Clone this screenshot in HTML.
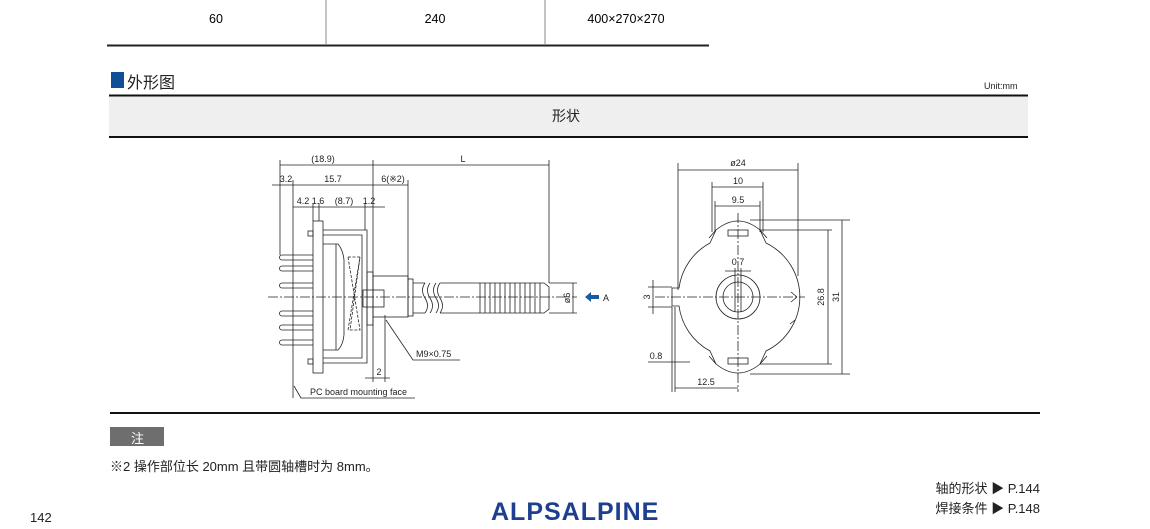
<!DOCTYPE html>
<html><head><meta charset="utf-8"><style>
*{margin:0;padding:0}
body{width:1150px;height:529px;background:#fff;position:relative;overflow:hidden;font-family:"Liberation Sans","Noto Sans CJK SC",sans-serif;color:#222}
.a{position:absolute;white-space:nowrap}
</style></head><body>
<div class="a" style="left:0;top:0;width:1150px;height:529px">
<svg width="1150" height="529" viewBox="0 0 1150 529" xmlns="http://www.w3.org/2000/svg" style="position:absolute;left:0;top:0" font-family="Liberation Sans, sans-serif">
<line x1="326" y1="0" x2="326" y2="44" stroke="#888" stroke-width="1"/>
<line x1="545" y1="0" x2="545" y2="44" stroke="#888" stroke-width="1"/>
<line x1="107" y1="45.5" x2="709" y2="45.5" stroke="#222" stroke-width="2"/>
<text x="216" y="23" font-size="12.5" text-anchor="middle">60</text>
<text x="435" y="23" font-size="12.5" text-anchor="middle">240</text>
<text x="626" y="23" font-size="12.5" text-anchor="middle">400×270×270</text>
<rect x="111" y="72" width="13" height="16" fill="#0f4f96"/>
<rect x="109" y="96" width="919" height="41" fill="#efefef"/>
<line x1="109" y1="95.5" x2="1028" y2="95.5" stroke="#111" stroke-width="2"/>
<line x1="109" y1="137" x2="1028" y2="137" stroke="#111" stroke-width="2"/>
<line x1="110" y1="413" x2="1040" y2="413" stroke="#111" stroke-width="2"/>
<rect x="110" y="427" width="54" height="19" fill="#6e6e6e"/>

<g stroke="#222" stroke-width="0.8" fill="none">
<line x1="280" y1="165" x2="549" y2="165"/>
<line x1="272" y1="185" x2="408" y2="185"/>
<line x1="293" y1="207" x2="385" y2="207"/>
<line x1="280" y1="160" x2="280" y2="255"/>
<line x1="293" y1="180" x2="293" y2="398"/>
<line x1="373" y1="160" x2="373" y2="382"/>
<line x1="408" y1="180" x2="408" y2="282"/>
<line x1="549" y1="160" x2="549" y2="283"/>
<line x1="313" y1="203" x2="313" y2="221"/>
<line x1="319" y1="203" x2="319" y2="221"/>
<line x1="365" y1="203" x2="365" y2="230"/>
<line x1="385" y1="315" x2="385" y2="382"/>
<line x1="365" y1="378" x2="390" y2="378"/>
<rect x="313" y="221" width="10" height="152"/>
<rect x="308" y="231" width="5" height="5"/>
<rect x="308" y="359" width="5" height="5"/>
<path d="M323 230 H367 V363 H323"/>
<path d="M323 235 H362 V358 H323"/>
<path d="M323 244 H338 Q343 250 344 260 V335 Q343 345 338 350 H323"/>
<line x1="336" y1="244" x2="336" y2="350"/>
<path d="M348 257 H360 L350 330 H360 Z M348 330 L360 257" stroke-dasharray="3 1.5" />
<rect x="367" y="272" width="6" height="53"/>
<rect x="373" y="276" width="35" height="41"/>
<rect x="408" y="279" width="5" height="37"/>
<rect x="363" y="290" width="21" height="17"/>
<path d="M413 283 H425 M413 313 H425 M440 283 H480 M440 313 H480"/>
<path d="M425 283 q-5 7 0 15 q5 8 0 15 M430 283 q-5 7 0 15 q5 8 0 15 M436 283 q-5 7 0 15 q5 8 0 15 M440 283 q-5 7 0 15 q5 8 0 15"/>
<path d="M480 283 H544 L549 287 V309 L544 313 H480 Z"/>
<path d="M485 283V313M490 283V313M495 283V313M500 283V313M505 283V313M510 283V313M515 283V313M520 283V313M525 283V313M530 283V313M535 283V313M540 283V313"/>
<g>
<path d="M313 255 H282 a2.5 2.5 0 0 0 0 5 H313"/>
<path d="M313 266 H282 a2.5 2.5 0 0 0 0 5 H313"/>
<path d="M313 283 H282 a2.5 2.5 0 0 0 0 5 H313"/>
<path d="M313 311 H282 a2.5 2.5 0 0 0 0 5 H313"/>
<path d="M313 325 H282 a2.5 2.5 0 0 0 0 5 H313"/>
<path d="M313 340 H282 a2.5 2.5 0 0 0 0 5 H313"/>
</g>
<line x1="549" y1="283" x2="577" y2="283"/>
<line x1="549" y1="313" x2="577" y2="313"/>
<line x1="573" y1="283" x2="573" y2="313"/>
<path d="M386 320 L413 360 H460"/>
<path d="M294 386 L301 398 H415"/>
<line x1="268" y1="297" x2="577" y2="297" stroke-dasharray="10 2 2 2"/>

<line x1="678" y1="170" x2="798" y2="170"/>
<line x1="712" y1="187" x2="763" y2="187"/>
<line x1="715" y1="206" x2="760" y2="206"/>
<line x1="678" y1="163" x2="678" y2="290"/>
<line x1="798" y1="163" x2="798" y2="276"/>
<line x1="712" y1="182" x2="712" y2="232"/>
<line x1="763" y1="182" x2="763" y2="232"/>
<line x1="715" y1="201" x2="715" y2="232"/>
<line x1="760" y1="201" x2="760" y2="232"/>
<path d="M716 230 Q738 212 760 230 L766 243 A60 60 0 0 1 766 351 L760 364 Q738 382 716 364 L710 351 A60 60 0 0 1 679 306 H672 V288 H679 A60 60 0 0 1 710 243 Z"/>
<path d="M760 230 L767 238 M716 230 L709 238 M760 364 L767 356 M716 364 L709 356"/>
<rect x="728" y="230" width="20" height="6"/>
<rect x="728" y="358" width="20" height="6"/>
<circle cx="738" cy="297" r="22"/>
<circle cx="738" cy="297" r="15"/>
<line x1="735" y1="268" x2="735" y2="312"/>
<line x1="741" y1="268" x2="741" y2="312"/>
<line x1="725" y1="271" x2="751" y2="271"/>
<line x1="738" y1="213" x2="738" y2="392" stroke-dasharray="10 2 2 2"/>
<line x1="655" y1="297" x2="805" y2="297" stroke-dasharray="10 2 2 2"/>
<path d="M797 297 L791 292 M797 297 L791 302 M790 324 L795 320"/>
<line x1="760" y1="230" x2="832" y2="230"/>
<line x1="760" y1="364" x2="832" y2="364"/>
<line x1="828" y1="230" x2="828" y2="364"/>
<line x1="750" y1="220" x2="850" y2="220"/>
<line x1="750" y1="374" x2="850" y2="374"/>
<line x1="842" y1="220" x2="842" y2="374"/>
<line x1="648" y1="287" x2="672" y2="287"/>
<line x1="648" y1="307" x2="672" y2="307"/>
<line x1="653" y1="280" x2="653" y2="314"/>
<line x1="672" y1="307" x2="672" y2="392"/>
<line x1="675" y1="307" x2="675" y2="392"/>
<line x1="648" y1="362" x2="690" y2="362"/>
<line x1="675" y1="388" x2="738" y2="388"/>
</g>
<g font-size="9" fill="#222">
<text x="323" y="162" text-anchor="middle">(18.9)</text>
<text x="463" y="162" text-anchor="middle">L</text>
<text x="286" y="182" text-anchor="middle">3.2</text>
<text x="333" y="182" text-anchor="middle">15.7</text>
<text x="393" y="182" text-anchor="middle">6(※2)</text>
<text x="303" y="204" text-anchor="middle">4.2</text>
<text x="318" y="204" text-anchor="middle">1.6</text>
<text x="344" y="204" text-anchor="middle">(8.7)</text>
<text x="369" y="204" text-anchor="middle">1.2</text>
<text x="379" y="375" text-anchor="middle">2</text>
<text x="416" y="357">M9×0.75</text>
<text x="310" y="395">PC board mounting face</text>
<text x="570" y="298" text-anchor="middle" transform="rotate(-90 570 298)">ø6</text>
<text x="603" y="301">A</text>
<text x="738" y="166" text-anchor="middle">ø24</text>
<text x="738" y="184" text-anchor="middle">10</text>
<text x="738" y="203" text-anchor="middle">9.5</text>
<text x="738" y="265" text-anchor="middle">0.7</text>
<text x="824" y="297" text-anchor="middle" transform="rotate(-90 824 297)">26.8</text>
<text x="839" y="297" text-anchor="middle" transform="rotate(-90 839 297)">31</text>
<text x="650" y="297" text-anchor="middle" transform="rotate(-90 650 297)">3</text>
<text x="656" y="359" text-anchor="middle">0.8</text>
<text x="706" y="385" text-anchor="middle">12.5</text>
</g>
<path d="M585 297 L591 292 V295 H599 V299 H591 V302 Z" fill="#1a5aa0"/>
</svg>
<div class="a" style="left:127px;top:69px;font-size:16px">外形图</div>
<div class="a" style="left:984px;top:81px;font-size:9px">Unit:mm</div>
<div class="a" style="left:552px;top:106px;font-size:14px">形状</div>
<div class="a" style="left:131px;top:428px;font-size:13px;color:#fff">注</div>
<div class="a" style="left:110px;top:456px;font-size:13px">※2 操作部位长 20mm 且带圆轴槽时为 8mm。</div>
<div class="a" style="right:110px;top:478px;font-size:13px">轴的形状 ▶ P.144</div>
<div class="a" style="right:110px;top:498px;font-size:13px">焊接条件 ▶ P.148</div>
<div class="a" style="left:30px;top:510px;font-size:13px">142</div>
<div class="a" style="left:491px;top:498px;font-size:25px;font-weight:bold;color:#1d3f8f;letter-spacing:1px">ALPSALPINE</div>
</div>
</body></html>
